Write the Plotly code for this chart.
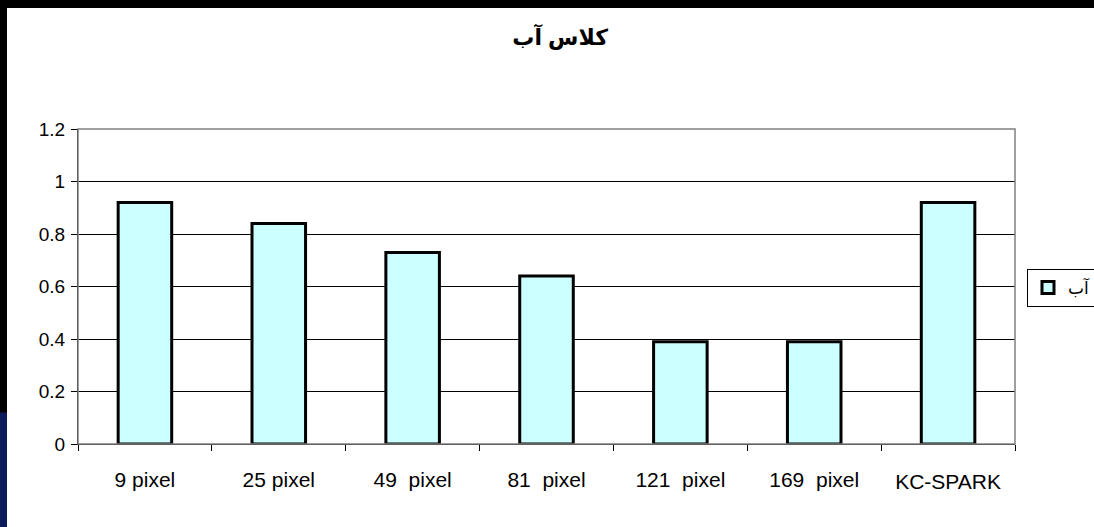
import plotly.graph_objects as go

# Classification accuracy for the water class, by window size
categories = ["9 pixel", "25 pixel", "49\u00a0 pixel", "81\u00a0 pixel",
              "121\u00a0 pixel", "169\u00a0 pixel", "KC-SPARK"]
accuracy = [0.92, 0.84, 0.73, 0.64, 0.39, 0.39, 0.92]
series_name = "آب"
chart_title = "كلاس آب"
y_ticks = [0, 0.2, 0.4, 0.6, 0.8, 1.0, 1.2]
y_tick_text = ["0", "0.2", "0.4", "0.6", "0.8", "1", "1.2"]

W, H = 1094, 527
L, R, T, B = 78, 79, 128.5, 82.5
FONT = "Liberation Sans, Arial, DejaVu Sans, sans-serif"

fig = go.Figure()
fig.add_trace(
    go.Bar(
        x=categories,
        y=accuracy,
        name=series_name,
        marker=dict(color="#CCFFFF", line=dict(color="black", width=3)),
        showlegend=True,
    )
)
# carrier for the overlay axis that holds the lowered last label
fig.add_trace(
    go.Scatter(
        x=categories, y=accuracy, xaxis="x2", mode="none",
        showlegend=False, hoverinfo="skip",
    )
)


def px_x(px):
    return (px - L) / (W - L - R)


def px_y(py):
    return (H - B - py) / (H - T - B)


shapes = [
    # white sheet over a black frame
    dict(type="rect", xref="paper", yref="paper", layer="below",
         x0=px_x(7), x1=px_x(W + 5), y0=px_y(H + 5), y1=px_y(7),
         fillcolor="white", line=dict(width=0)),
    # navy strip at the lower left edge
    dict(type="rect", xref="paper", yref="paper", layer="below",
         x0=px_x(-2), x1=px_x(7), y0=px_y(H + 5), y1=px_y(413),
         fillcolor="#0B1A5A", line=dict(width=0)),
    # grey plot-area frame
    dict(type="rect", xref="paper", yref="paper", layer="above",
         x0=0, x1=1, y0=0, y1=1,
         fillcolor="rgba(0,0,0,0)", line=dict(color="#808080", width=1.5)),
]

fig.update_layout(
    width=W, height=H,
    margin=dict(l=L, r=R, t=T, b=B, autoexpand=False),
    paper_bgcolor="black",
    plot_bgcolor="#C0C0C0",
    font=dict(family=FONT, size=20, color="black"),
    bargap=0.6,
    title=dict(text="<b>" + chart_title + "</b>", x=0.512, xanchor="center",
               y=1 - 37 / H, yanchor="middle",
               font=dict(family=FONT, size=22, color="black")),
    xaxis=dict(
        type="category",
        categoryorder="array", categoryarray=categories,
        tickmode="array", tickvals=categories,
        ticktext=categories[:-1] + [""],
        showline=True, linecolor="black", linewidth=1,
        ticks="outside", tickson="boundaries", ticklen=6, tickcolor="black",
        tickwidth=1, showgrid=False,
        tickfont=dict(size=21),
        ticklabelstandoff=17,
    ),
    xaxis2=dict(
        type="category",
        categoryorder="array", categoryarray=categories,
        overlaying="x", matches="x", side="bottom", anchor="y",
        tickmode="array", tickvals=[categories[-1]], ticktext=[categories[-1]],
        showline=False, ticks="", showgrid=False, zeroline=False,
        tickfont=dict(size=21),
        ticklabelstandoff=23,
    ),
    yaxis=dict(
        range=[0, 1.2],
        tickvals=y_ticks, ticktext=y_tick_text,
        showline=True, linecolor="black", linewidth=1,
        ticks="outside", ticklen=6, tickcolor="black", tickwidth=1,
        showgrid=True, gridcolor="black", gridwidth=1,
        zeroline=False,
        tickfont=dict(size=19),
        ticklabelstandoff=2,
    ),
    legend=dict(
        x=px_x(1027), xanchor="left",
        y=px_y(288), yanchor="middle",
        bgcolor="white", bordercolor="black", borderwidth=1,
        font=dict(family=FONT, size=17, color="black"),
        itemwidth=30,
    ),
    shapes=shapes,
)

fig.write_html("out.html")
